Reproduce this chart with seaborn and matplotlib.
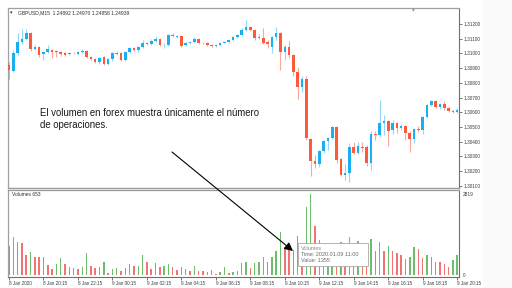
import matplotlib
matplotlib.use("Agg")
import matplotlib.pyplot as plt
from matplotlib.patches import Rectangle
import numpy as np
import pandas as pd
import seaborn as sns

# ---------------- data ----------------
opens = [
    1.30921, 1.30880, 1.31003, 1.31077, 1.31098, 1.31139, 1.31030, 1.31043, 1.30996, 1.31009,
    1.31023, 1.31016, 1.31009, 1.31003, 1.30996, 1.31003, 1.30996, 1.31009, 1.31016, 1.30975,
    1.30962, 1.30941, 1.30975, 1.30928, 1.30962, 1.30996, 1.31003, 1.30955, 1.31009, 1.31037,
    1.31023, 1.31043, 1.31071, 1.31064, 1.31084, 1.31098, 1.31057, 1.31057, 1.31125, 1.31111,
    1.31118, 1.31057, 1.31071, 1.31077, 1.31098, 1.31071, 1.31071, 1.31057, 1.31050, 1.31057,
    1.31071, 1.31077, 1.31091, 1.31111, 1.31125, 1.31159, 1.31179, 1.31159, 1.31105, 1.31105,
    1.31077, 1.31043, 1.31111, 1.31139, 1.31009, 1.31043, 1.30989, 1.30873, 1.30771, 1.30826,
    1.30418, 1.30268, 1.30248, 1.30336, 1.30404, 1.30425, 1.30499, 1.30282, 1.30173, 1.30187,
    1.30363, 1.30323, 1.30363, 1.30363, 1.30255, 1.30452, 1.30445, 1.30527, 1.30540, 1.30479,
    1.30527, 1.30493, 1.30506, 1.30459, 1.30418, 1.30486, 1.30479, 1.30567, 1.30649, 1.30676,
    1.30635, 1.30656, 1.30629, 1.30608, 1.30601,
]
highs = [
    1.30941, 1.31023, 1.31139, 1.31166, 1.31166, 1.31145, 1.31057, 1.31050, 1.31016, 1.31057,
    1.31030, 1.31023, 1.31016, 1.31009, 1.31009, 1.31009, 1.31016, 1.31030, 1.31023, 1.30982,
    1.30969, 1.30975, 1.30982, 1.30969, 1.31009, 1.31016, 1.31009, 1.31016, 1.31043, 1.31043,
    1.31050, 1.31091, 1.31077, 1.31098, 1.31118, 1.31105, 1.31071, 1.31132, 1.31139, 1.31125,
    1.31125, 1.31077, 1.31084, 1.31111, 1.31105, 1.31077, 1.31077, 1.31064, 1.31064, 1.31077,
    1.31084, 1.31098, 1.31118, 1.31132, 1.31173, 1.31227, 1.31186, 1.31166, 1.31132, 1.31173,
    1.31091, 1.31118, 1.31179, 1.31145, 1.31057, 1.31084, 1.30996, 1.30907, 1.30846, 1.30846,
    1.30425, 1.30309, 1.30343, 1.30411, 1.30431, 1.30506, 1.30506, 1.30289, 1.30248, 1.30391,
    1.30397, 1.30397, 1.30397, 1.30377, 1.30472, 1.30472, 1.30683, 1.30581, 1.30547, 1.30547,
    1.30533, 1.30520, 1.30513, 1.30472, 1.30493, 1.30506, 1.30574, 1.30656, 1.30683, 1.30683,
    1.30663, 1.30676, 1.30635, 1.30615, 1.30629,
]
lows = [
    1.30826, 1.30873, 1.30989, 1.31064, 1.31091, 1.31016, 1.31023, 1.30975, 1.30955, 1.31003,
    1.30969, 1.30975, 1.30982, 1.30982, 1.30989, 1.30996, 1.30989, 1.31003, 1.30969, 1.30955,
    1.30935, 1.30928, 1.30921, 1.30921, 1.30948, 1.30989, 1.30948, 1.30948, 1.31003, 1.31016,
    1.31009, 1.31037, 1.31057, 1.31057, 1.31077, 1.31050, 1.31037, 1.31050, 1.31111, 1.31105,
    1.31043, 1.31050, 1.31064, 1.31071, 1.31064, 1.31064, 1.31050, 1.31043, 1.31043, 1.31050,
    1.31068, 1.31074, 1.31084, 1.31105, 1.31118, 1.31152, 1.31152, 1.31091, 1.31098, 1.31064,
    1.31037, 1.31003, 1.31091, 1.30887, 1.30955, 1.30969, 1.30846, 1.30689, 1.30737, 1.30411,
    1.30166, 1.30221, 1.30227, 1.30323, 1.30343, 1.30418, 1.30255, 1.30166, 1.30139, 1.30125,
    1.30316, 1.30316, 1.30329, 1.30234, 1.30207, 1.30411, 1.30431, 1.30445, 1.30370, 1.30452,
    1.30459, 1.30479, 1.30411, 1.30329, 1.30391, 1.30465, 1.30452, 1.30560, 1.30642, 1.30629,
    1.30622, 1.30615, 1.30601, 1.30595, 1.30595,
]
closes = [
    1.30887, 1.31003, 1.31077, 1.31098, 1.31139, 1.31030, 1.31043, 1.30989, 1.31009, 1.31030,
    1.31009, 1.31009, 1.30996, 1.30989, 1.31003, 1.31001, 1.31009, 1.31016, 1.30975, 1.30962,
    1.30941, 1.30969, 1.30928, 1.30962, 1.31003, 1.31003, 1.30955, 1.31009, 1.31037, 1.31023,
    1.31043, 1.31071, 1.31064, 1.31084, 1.31098, 1.31057, 1.31060, 1.31125, 1.31118, 1.31118,
    1.31050, 1.31071, 1.31077, 1.31098, 1.31071, 1.31068, 1.31057, 1.31050, 1.31057, 1.31071,
    1.31077, 1.31091, 1.31111, 1.31125, 1.31159, 1.31179, 1.31159, 1.31105, 1.31111, 1.31071,
    1.31064, 1.31111, 1.31139, 1.31009, 1.31043, 1.30989, 1.30873, 1.30771, 1.30826, 1.30425,
    1.30268, 1.30248, 1.30336, 1.30404, 1.30425, 1.30499, 1.30275, 1.30173, 1.30187, 1.30363,
    1.30323, 1.30370, 1.30360, 1.30255, 1.30452, 1.30445, 1.30527, 1.30540, 1.30472, 1.30527,
    1.30493, 1.30506, 1.30459, 1.30418, 1.30486, 1.30479, 1.30567, 1.30649, 1.30676, 1.30635,
    1.30656, 1.30629, 1.30608, 1.30601, 1.30615,
]
volumes = [
    1010, 1330, 1160, 1100, 700, 810, 640, 630, 615, 350,
    200, 380, 590, 380, 290, 255, 200, 270, 755, 325,
    233, 290, 463, 80, 200, 255, 150, 233, 380, 313,
    330, 700, 463, 200, 430, 290, 313, 380, 270, 174,
    270, 200, 150, 313, 150, 140, 120, 174, 40, 120,
    270, 80, 120, 150, 407, 463, 233, 407, 463, 615,
    463, 640, 835, 1485, 960, 900, 880, 1355, 900, 2377,
    2819, 1705, 1218, 700, 900, 1000, 700, 1150, 950, 1330,
    1000, 1180, 900, 870, 1253, 846, 1150, 846, 1010, 846,
    776, 700, 557, 640, 985, 894, 580, 700, 615, 463,
    450, 380, 290, 520, 700,
]
time_labels = ["8 Jan 2020", "8 Jan 20:15", "8 Jan 22:15", "9 Jan 00:15", "9 Jan 02:15",
               "9 Jan 04:15", "9 Jan 06:15", "9 Jan 08:15", "9 Jan 10:15", "9 Jan 12:15",
               "9 Jan 14:15", "9 Jan 16:15", "9 Jan 18:15", "9 Jan 20:15"]
time_label_bars = [0, 8, 16, 24, 32, 40, 48, 56, 64, 72, 80, 88, 96, 104]
price_ticks = [1.30100, 1.30200, 1.30300, 1.30400, 1.30500, 1.30600,
               1.30700, 1.30800, 1.30900, 1.31000, 1.31100, 1.31200]
volume_ticks = [0, 2819]
header_text = "GBPUSD,M15  1.24892 1.24970 1.24858 1.24939"
volume_title = "Volumes 653"
annotation_text = "El volumen en forex muestra únicamente el número\nde operaciones."
tooltip_lines = ["Volumes", "Time: 2020.01.09 11:00", "Value: 1355"]

# ---------------- style ----------------
sns.set_theme(style="white")
plt.rcParams["font.family"] = ["Liberation Sans", "DejaVu Sans"]

W, H = 512, 288
fig = plt.figure(figsize=(W / 100, H / 100), dpi=100)
fig.patch.set_facecolor("white")


def fx(px):
    return px / W


def fy(py):
    return 1 - py / H


LEFT, RIGHT = 8, 459
ax = fig.add_axes([fx(LEFT), fy(188), fx(RIGHT) - fx(LEFT), fy(8) - fy(188)])
axv = fig.add_axes([fx(LEFT), fy(276.5), fx(RIGHT) - fx(LEFT), fy(190) - fy(276.5)])

n = len(closes)
x = np.arange(n)
o = np.array(opens)
c = np.array(closes)
h = np.array(highs)
l = np.array(lows)
up = c >= o

UP, DOWN = "#18b0f3", "#fd5a3c"
UPW, DOWNW = "#93d8f8", "#fca797"

ax.vlines(x, l, h, colors=[UPW if u else DOWNW for u in up], linewidth=0.8, zorder=2)
body_bottom = np.minimum(o, c)
body_h = np.maximum(np.abs(c - o), 0.000015)
ax.bar(x, body_h, bottom=body_bottom, width=0.6,
       color=[UP if u else DOWN for u in up], linewidth=0, zorder=3)

# volumes (colour by change vs previous bar)
vol = np.array(volumes)
direction = ["down"] + ["up" if vol[i] > vol[i - 1] else "down" for i in range(1, n)]
df = pd.DataFrame({"bar": x, "volume": vol, "direction": direction})
sns.barplot(data=df, x="bar", y="volume", hue="direction",
            palette={"up": "#6cbd6c", "down": "#f37272"}, dodge=False, width=0.34,
            saturation=1, legend=False, errorbar=None, linewidth=0, ax=axv)

for a in (ax, axv):
    a.set_xlim(-0.23, 104.42)
    a.set_xlabel("")
    a.set_ylabel("")
    a.set_facecolor("white")
ax.set_ylim(1.30085, 1.31309)
axv.set_ylim(-52, 2958)

# price axis
ax.set_xticks([])
ax.yaxis.tick_right()
ax.set_yticks(price_ticks)
ax.set_yticklabels([f"{p:.5f}" for p in price_ticks])
ax.tick_params(axis="y", right=True, left=False, length=2, width=0.6, color="#606060",
               labelsize=3.4, pad=1.2, labelcolor="#3a3a3a")

# volume axes ticks
axv.yaxis.tick_right()
axv.set_yticks(volume_ticks)
axv.set_yticklabels([str(v) for v in volume_ticks])
axv.tick_params(axis="y", right=True, left=False, length=0, labelsize=3.4, pad=3,
                labelcolor="#3a3a3a")
axv.set_xticks(time_label_bars)
axv.set_xticklabels(time_labels, ha="left")
axv.tick_params(axis="x", bottom=True, length=2, width=0.6, color="#606060",
                labelsize=3.3, pad=1, labelcolor="#3a3a3a")

for a in (ax, axv):
    for s in ("left", "top"):
        a.spines[s].set_color("#a0a0a0")
        a.spines[s].set_linewidth(0.9)
    a.spines["right"].set_color("#707070")
    a.spines["right"].set_linewidth(0.8)
ax.spines["bottom"].set_color("#9a9a9a")
ax.spines["bottom"].set_linewidth(1.0)
axv.spines["top"].set_color("#9a9a9a")
axv.spines["bottom"].set_color("#707070")
axv.spines["bottom"].set_linewidth(0.8)

# ---------------- overlay (texts, arrow, tooltip) ----------------
ov = fig.add_axes([0, 0, 1, 1], zorder=10)
ov.set_xlim(0, W)
ov.set_ylim(H, 0)
ov.axis("off")
ov.patch.set_visible(False)

ov.add_patch(Rectangle((483, 0), 29, 288, color="#fafafa", lw=0, zorder=0))

ov.text(11.5, 12.7, "▾", fontsize=3.6, color="#303030", va="center", ha="center",
        family=["DejaVu Sans"])
ov.text(17.5, 12.7, header_text, fontsize=3.6, color="#303030", va="center", ha="left")
ov.text(413.7, 9.3, "▾", fontsize=4, color="#909090", va="center", ha="center",
        family=["DejaVu Sans"])
ov.text(11.5, 194.5, volume_title, fontsize=3.5, color="#303030", va="center", ha="left")

ov.text(40.5, 128.3, annotation_text, fontsize=6.9, color="#1a1a1a", va="baseline",
        ha="left", linespacing=1.25)

ov.annotate("", xy=(293, 251), xytext=(172, 152),
            arrowprops=dict(arrowstyle="-|>,head_length=0.5,head_width=0.25",
                            color="black", lw=0.8, mutation_scale=10,
                            shrinkA=0, shrinkB=0))

ov.add_patch(Rectangle((297.5, 243), 70.5, 23, facecolor="white", edgecolor="#a8a8a8",
                       lw=0.6, zorder=5))
tip_y = [248.0, 254.5, 261.0]
tip_col = ["#8a8a8a", "#6a6a6a", "#6a6a6a"]
for t, yy, cc in zip(tooltip_lines, tip_y, tip_col):
    ov.text(301, yy, t, fontsize=4, color=cc, va="center", ha="left", zorder=6)

fig.savefig("out.png", dpi=100, facecolor="white")
